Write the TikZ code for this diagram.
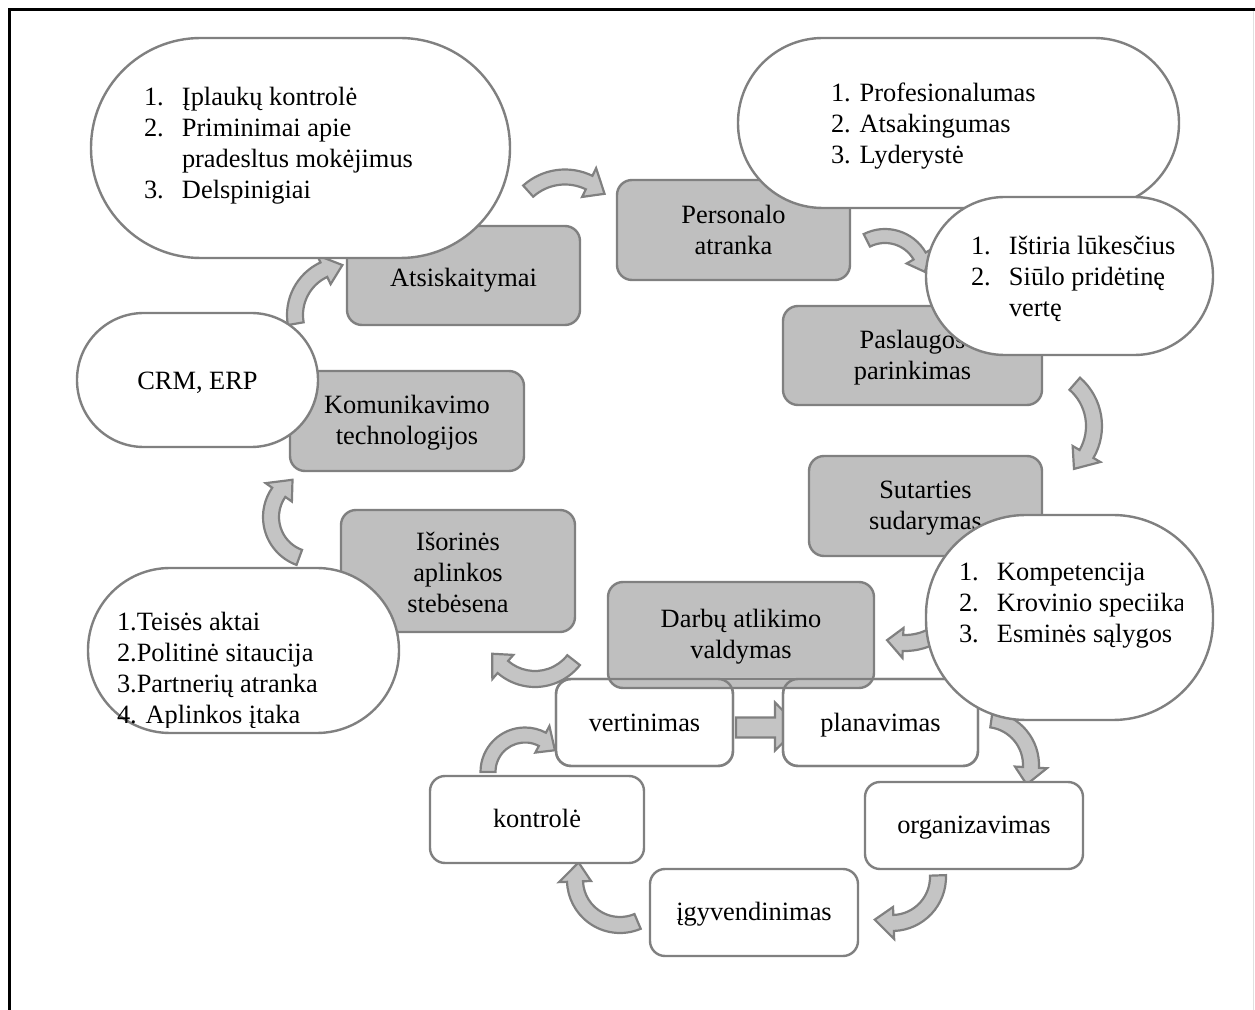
\documentclass[tikz,border=0pt]{standalone}
\usepackage{fontspec}
\setmainfont{Liberation Serif}
\usetikzlibrary{calc}

\definecolor{boxfill}{RGB}{191,191,191}
\definecolor{edgegray}{RGB}{128,128,128}
\definecolor{arrowfill}{RGB}{196,196,196}

% curved block arrow: #1 name of its centre, #2 centre, #3 radius,
% #4 start angle, #5 angle of the head base, #6 body half width,
% #7 head half width, #8 angle of the tip
\newcommand{\bentarrow}[8]{%
  \coordinate (#1) at #2;
  \draw[blockarrow] ($(#1)+(#4:#3+#6)$) arc[start angle=#4, end angle=#5, radius=#3+#6]
    -- ($(#1)+(#5:#3+#7)$) -- ($(#1)+(#8:#3)$) -- ($(#1)+(#5:#3-#7)$)
    -- ($(#1)+(#5:#3-#6)$) arc[start angle=#5, end angle=#4, radius=#3-#6] -- cycle;
}
\newcommand{\numbox}[1]{\makebox[19pt][l]{#1}}

\begin{document}
\begin{tikzpicture}[x=0.5pt,y=0.5pt,
  every node/.style={inner sep=0pt, outer sep=0pt},
  lbl/.style={font=\fontsize{13.2pt}{15.5pt}\selectfont, align=center},
  graybox/.style={draw=edgegray, line width=1.2pt, fill=boxfill, rounded corners=7.5pt},
  whitebox/.style={draw=edgegray, line width=1.2pt, fill=white, rounded corners=7.5pt},
  callout/.style={draw=edgegray, line width=1.2pt, fill=white},
  blockarrow/.style={draw=edgegray, line width=1.1pt, fill=arrowfill, line join=miter}]

\useasboundingbox (0,0) rectangle (1255,-1010);

% page frame
\draw[line width=1.5pt] (9,-1010) -- (9,-10) -- (1255,-10);
\draw[line width=0.4pt, black!12] (1253.5,-11) -- (1253.5,-1010);

% ---------- curved block arrows ----------
\bentarrow{a1}{(565,-232)}{55}{132}{64}{7.5}{16}{44}
\bentarrow{a2}{(885,-276)}{40}{117}{30}{7}{15}{6}
\bentarrow{a3}{(1038,-426)}{56}{49}{-30}{8}{16}{-50}
\bentarrow{a4}{(905,-585)}{58}{-55}{-92}{8}{15}{-108}
\bentarrow{a5}{(535,-630)}{49}{-38}{-131}{8}{16}{-151}
\bentarrow{a6}{(314,-517)}{43}{250}{145}{8}{16}{120}
\bentarrow{a7}{(345,-315)}{50}{190}{115}{8}{16}{93}
\bentarrow{a9}{(985,-765)}{46}{82}{-3}{8}{16}{-25}
\bentarrow{a10}{(892,-877)}{46}{2}{-88}{8}{16}{-112}
\bentarrow{a11}{(620,-880)}{45}{-67}{-178}{8}{16}{-203}
\bentarrow{a12}{(525,-772)}{37}{180}{62}{7.5}{15}{36}

% ---------- grey process boxes ----------
\node[graybox, minimum width=117pt, minimum height=50pt] (comm) at (407,-421) {};
\node[lbl, anchor=base] (comm-t) at (407,-445) {Komunikavimo\\technologijos};

\node[graybox, minimum width=117pt, minimum height=61pt] (env) at (458,-571) {};
\node[lbl, anchor=base] (env-t) at (458,-613) {Išorinės\\aplinkos\\stebėsena};

\node[graybox, minimum width=116.5pt, minimum height=49.5pt] (pay) at (463.5,-275.5) {};
\node[lbl, anchor=base] (pay-t) at (463.5,-287) {Atsiskaitymai};

\node[graybox, minimum width=116.5pt, minimum height=50pt] (staff) at (733.5,-230) {};
\node[lbl, anchor=base] (staff-t) at (733.5,-255) {Personalo\\atranka};

\node[graybox, minimum width=129.5pt, minimum height=49.5pt] (svc) at (912.5,-355.5) {};
\node[lbl, anchor=base] (svc-t) at (912.5,-380) {Paslaugos\\parinkimas};

\node[graybox, minimum width=116.5pt, minimum height=50pt] (contract) at (925.5,-506) {};
\node[lbl, anchor=base] (contract-t) at (925.5,-530) {Sutarties\\sudarymas};

% ---------- management cycle ----------
\node[whitebox, minimum width=88.5pt, minimum height=43.5pt] (eval) at (644.5,-722.5) {};
\draw[blockarrow] ($(eval.east)+(3,5)$) -- ($(eval.east)+(42,5)$) -- ($(eval.east)+(42,20)$)
  -- ($(eval.east)+(66,-4.5)$) -- ($(eval.east)+(42,-28)$) -- ($(eval.east)+(42,-15)$)
  -- ($(eval.east)+(3,-15)$) -- cycle;
\node[whitebox, minimum width=97.5pt, minimum height=43.5pt] (plan) at (880.5,-722.5) {};

\node[graybox, minimum width=133pt, minimum height=53pt] (works) at (741,-635) {};
% outlines of the two lower boxes stay visible across the grey box
\draw[draw=edgegray, line width=1.2pt, rounded corners=7.5pt] (eval.south west) rectangle (eval.north east);
\draw[draw=edgegray, line width=1.2pt, rounded corners=7.5pt] (plan.south west) rectangle (plan.north east);
\draw[draw=edgegray, line width=1.2pt] (eval.north) -- (plan.north);
\node[lbl, anchor=base] (works-t) at (741,-659) {Darbų atlikimo\\valdymas};

\node[lbl, anchor=base] (eval-t) at (644.5,-732) {vertinimas};
\node[lbl, anchor=base] (plan-t) at (880.5,-732) {planavimas};

\node[whitebox, minimum width=107pt, minimum height=43.5pt] (ctrl) at (537,-819.5) {};
\node[lbl, anchor=base] (ctrl-t) at (537,-828) {kontrolė};

\node[whitebox, minimum width=104pt, minimum height=43.5pt] (impl) at (754,-912.5) {};
\node[lbl, anchor=base] (impl-t) at (754,-921) {įgyvendinimas};

\node[whitebox, minimum width=109pt, minimum height=43.5pt] (org) at (974,-825.5) {};
\node[lbl, anchor=base] (org-t) at (974,-834) {organizavimas};

% ---------- white call-outs ----------
\node[callout, rounded corners=54.9pt, minimum width=209.5pt, minimum height=110pt] (pay-c) at (300.5,-148) {};
\node[lbl, align=left, anchor=base west] (pay-ct) at (144,-199)
  {\numbox{1.}Įplaukų kontrolė\\ \numbox{2.}Priminimai apie\\ \numbox{}pradesltus mokėjimus\\ \numbox{3.}Delspinigiai};

\node[callout, rounded corners=42.4pt, minimum width=220.5pt, minimum height=85pt] (staff-c) at (958.5,-123) {};
\node[lbl, align=left, anchor=base west] (staff-ct) at (831,-164)
  {1. Profesionalumas\\2. Atsakingumas\\3. Lyderystė};

\node[callout, rounded corners=39.4pt, minimum width=143.5pt, minimum height=79pt] (svc-c) at (1069.5,-276) {};
\node[lbl, align=left, anchor=base west] (svc-ct) at (971,-317)
  {\numbox{1.}Ištiria lūkesčius\\ \numbox{2.}Siūlo pridėtinę\\ \numbox{}vertę};

\node[callout, rounded corners=50pt, minimum width=143.5pt, minimum height=102.5pt] (contract-c) at (1069.5,-617.5) {};
\begin{scope}
  \clip (900,-500) rectangle (1182,-700);
  \node[lbl, align=left, anchor=base west] (contract-ct) at (959,-643)
    {\numbox{1.}Kompetencija\\ \numbox{2.}Krovinio speciika\\ \numbox{3.}Esminės sąlygos};
\end{scope}

\node[callout, rounded corners=33.4pt, minimum width=120.5pt, minimum height=67pt] (comm-c) at (197.5,-380) {};
\node[lbl, anchor=base] (comm-ct) at (197.5,-390) {CRM, ERP};

\node[callout, rounded corners=41.1pt, minimum width=155.5pt, minimum height=82.5pt] (env-c) at (243.5,-650.5) {};
\begin{scope}
  \clip (90,-570) rectangle (400,-728);
  \node[lbl, align=left, anchor=base west] (env-ct) at (117,-724)
    {1.Teisės aktai\\2.Politinė sitaucija\\3.Partnerių atranka\\4. Aplinkos įtaka};
\end{scope}

\end{tikzpicture}
\end{document}
